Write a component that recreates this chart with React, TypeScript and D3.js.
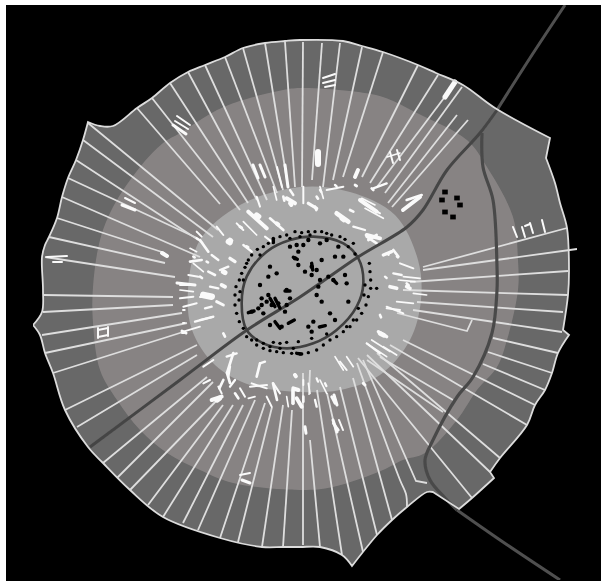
import * as d3 from 'd3';

type Pt = [number, number];
type Seg = number[];

const WIDTH = 601;
const HEIGHT = 581;

// map units are the picture's own grid
const x = d3.scaleLinear().domain([0, 601]).range([0, WIDTH]);
const y = d3.scaleLinear().domain([0, 581]).range([0, HEIGHT]);
// the centre survey is read on a finer grid
const cx = d3.scaleLinear().domain([0, 750]).range([180, 430]);
const cy = d3.scaleLinear().domain([0, 690]).range([180, 410]);

// sharp corners of the boundary are listed twice so the curve does not round them
const boundary: Pt[] = [
  [285, 41], [300, 40], [343, 41], [362, 46], [383, 52], [418, 65], [436, 73], [463, 85], [495, 108], [550, 138], [550, 138],
  [546, 158], [546, 158], [555, 183], [560, 203], [567, 228], [569, 271], [568, 295], [563, 330], [563, 330], [569, 335], [569, 335], [558, 353],
  [552, 373], [545, 390], [535, 405], [527, 425], [500, 458], [490, 472], [490, 472], [494, 478], [494, 478], [472, 498], [459, 509], [459, 509],
  [433, 492], [433, 492], [427, 492], [407, 507], [392, 520], [377, 535], [352, 566], [352, 566], [342, 555], [320, 547], [300, 547],
  [283, 547], [262, 547], [220, 538], [163, 517], [130, 490], [103, 463], [88, 447], [65, 410], [53, 373],
  [45, 353], [40, 335], [33, 325], [33, 325], [42, 312], [43, 290], [42, 257], [45, 245], [49, 237], [57, 218], [62, 197],
  [68, 178], [76, 160], [83, 140], [88, 122], [88, 122], [100, 126], [113, 126], [137, 108], [152, 98], [170, 83], [188, 72],
  [205, 65], [225, 57], [243, 48], [265, 43],
];

const middleZone: Pt[] = [
  [300, 88], [350, 91], [383, 97], [417, 113], [467, 140], [487, 167], [513, 217], [518, 260], [518, 290], [507, 340],
  [497, 367], [477, 390], [457, 420], [425, 453], [403, 460], [383, 470], [333, 487], [300, 490], [233, 483],
  [200, 470], [167, 453], [140, 430], [117, 400], [100, 370], [93, 323], [93, 287], [100, 240], [113, 207],
  [140, 167], [163, 143], [180, 133], [217, 110], [243, 100], [283, 90],
];

const innerZone: Pt[] = [
  [300, 187], [350, 192], [395, 215], [418, 260], [421, 300], [410, 340], [380, 375], [340, 390], [300, 392],
  [250, 385], [215, 365], [192, 330], [188, 290], [200, 240], [240, 205],
];

// plot lines: outer end to inner end, bent ones carry a middle point
const plotLines: Seg[] = [
  [285, 42, 295, 187], [265, 43, 288, 187], [243, 48, 283, 190], [225, 57, 277, 193], [205, 65, 267, 200],
  [188, 72, 257, 200], [170, 83, 248, 203], [152, 98, 240, 210], [137, 108, 220, 204], [88, 123, 218, 230],
  [83, 140, 213, 237], [76, 160, 203, 243], [68, 178, 197, 238], [62, 197, 200, 257], [57, 218, 165, 253],
  [49, 237, 165, 263], [45, 257, 175, 277], [43, 295, 173, 297], [43, 312, 173, 305], [42, 335, 182, 313],
  [45, 353, 187, 323], [53, 373, 183, 332], [65, 410, 197, 345], [77, 427, 197, 355], [103, 463, 207, 377],
  [117, 478, 213, 382], [130, 490, 220, 397], [148, 505, 223, 405], [163, 517, 233, 405], [183, 523, 243, 405],
  [198, 530, 255, 400], [220, 538, 265, 403], [238, 542, 272, 407], [262, 547, 283, 405], [283, 547, 292, 410],
  [303, 545, 303, 373], [320, 547, 310, 440], [310, 370, 309, 395], [342, 555, 317, 390], [363, 552, 327, 393],
  [377, 535, 340, 387], [392, 520, 353, 378], [427, 483, 416, 481, 363, 360], [472, 498, 358, 358],
  [490, 472, 367, 355], [443, 412, 367, 360], [500, 458, 377, 353], [453, 400, 380, 357], [527, 425, 390, 345],
  [535, 405, 403, 340], [545, 390, 483, 364], [552, 373, 488, 352], [558, 353, 493, 338],
  [472, 320, 467, 331, 397, 313], [562, 332, 413, 310], [563, 312, 417, 302], [568, 295, 403, 290],
  [568, 271, 410, 282], [577, 249, 423, 270], [567, 228, 423, 267], [468, 120, 392, 207], [457, 115, 388, 203],
  [462, 87, 385, 193], [456, 82, 377, 187], [438, 75, 370, 183], [418, 65, 362, 177], [383, 52, 343, 177],
  [362, 47, 333, 180], [340, 43, 323, 187], [322, 43, 312, 180], [303, 42, 302, 187],
];
const curvedPlotLine: Pt[] = [[407, 507], [406, 494], [400, 480], [357, 363]];

// small white houses out in the fields
const farmHouses: Seg[] = [
  [177, 116, 190, 125, 2], [175, 121, 188, 129, 2], [173, 125, 186, 134, 3], [125, 198, 135, 203, 2],
  [122, 205, 135, 210, 3], [253, 165, 258, 178, 3], [260, 165, 265, 177, 3], [277, 167, 282, 187, 2],
  [285, 165, 288, 187, 3], [47, 257, 67, 256, 2], [53, 262, 62, 262, 2], [177, 283, 195, 285, 3],
  [323, 78, 335, 74, 2], [323, 83, 335, 80, 2], [325, 87, 335, 85, 2], [445, 97, 455, 82, 5],
  [387, 157, 400, 153, 1.5], [390, 152, 393, 163, 2], [397, 150, 400, 160, 2], [318, 152, 318, 164, 6],
  [358, 170, 355, 177, 4], [513, 227, 517, 237, 2], [522, 227, 525, 237, 2], [525, 226, 530, 224, 2],
  [530, 223, 533, 233, 2], [542, 220, 545, 232, 2], [98, 330, 108, 328, 2], [98, 337, 108, 335, 2],
  [98, 328, 98, 338, 2], [108, 327, 108, 336, 2], [240, 475, 250, 473, 2], [242, 480, 250, 483, 3],
  [403, 210, 420, 197, 4], [334, 395, 337, 405, 3], [333, 420, 337, 432, 3], [339, 420, 343, 430, 2],
  [162, 253, 167, 256, 4], [182, 331, 186, 333, 3],
];

// the white house belt round the village, on the fine grid
const houses: Seg[] = [
  [205, 95, 260, 145, 12], [145, 185, 150, 188, 16], [130, 275, 135, 278, 15], [70, 345, 95, 350, 20],
  [190, 125, 230, 165, 5], [270, 115, 310, 150, 8], [320, 55, 345, 70, 12], [385, 70, 410, 85, 10],
  [470, 100, 505, 125, 14], [540, 60, 590, 95, 12], [520, 140, 555, 150, 7], [560, 165, 600, 175, 12],
  [680, 60, 725, 45, 8], [640, 210, 655, 230, 8], [610, 225, 635, 215, 10], [60, 180, 85, 215, 8],
  [30, 245, 65, 240, 8], [150, 235, 165, 245, 10], [190, 195, 215, 215, 7], [85, 275, 105, 285, 8],
  [125, 315, 135, 320, 12], [0, 315, 45, 315, 6], [0, 330, 40, 335, 5], [0, 355, 40, 350, 6], [10, 380, 50, 370, 6],
  [110, 365, 130, 375, 9], [120, 270, 145, 260, 7], [45, 425, 100, 410, 7], [10, 455, 60, 440, 5], [130, 460, 135, 470, 8],
  [630, 320, 650, 325, 11], [680, 320, 690, 325, 11], [620, 380, 670, 400, 6], [650, 365, 700, 370, 5],
  [670, 290, 720, 295, 5], [660, 250, 700, 265, 6], [640, 280, 665, 285, 7], [595, 455, 620, 470, 10],
  [600, 405, 603, 412, 8], [560, 490, 600, 520, 6], [610, 500, 650, 525, 5], [140, 530, 170, 520, 7],
  [150, 560, 145, 590, 7], [165, 600, 150, 620, 7], [240, 550, 255, 545, 7], [215, 610, 260, 625, 6],
  [280, 610, 300, 640, 6], [340, 625, 355, 630, 12], [385, 610, 390, 640, 5], [345, 585, 348, 590, 10],
  [95, 660, 125, 650, 12], [115, 620, 125, 640, 6], [260, 650, 275, 680, 6], [320, 650, 325, 680, 5],
  [350, 655, 365, 680, 12], [420, 600, 440, 640, 5], [465, 530, 490, 570, 5], [500, 530, 520, 560, 5],
  [405, 660, 410, 680, 7], [550, 610, 555, 615, 9], [70, 560, 100, 540, 6], [40, 250, 70, 275, 5],
  [230, 50, 240, 80, 6], [280, 20, 290, 60, 5], [330, 30, 340, 45, 7], [440, 30, 490, 20, 6],
  [560, 170, 590, 190, 8], [580, 25, 620, 10, 7], [510, 90, 520, 95, 8], [420, 20, 430, 55, 5], [370, 20, 370, 70, 6],
  [50, 155, 65, 170, 6], [110, 140, 130, 165, 6], [700, 340, 740, 345, 5],
  [160, 519, 141, 579, 8], [141, 579, 150, 609, 8], [111, 660, 118, 655, 16], [240, 550, 230, 590, 8],
  [210, 620, 261, 615, 6], [279, 610, 291, 660, 8], [345, 585, 347, 588, 12], [339, 630, 339, 670, 11],
  [60, 351, 99, 351, 6], [60, 420, 99, 411, 6], [9, 390, 14, 390, 6], [9, 429, 14, 429, 6], [6, 459, 12, 459, 6],
  [230, 105, 236, 110, 16], [150, 180, 153, 182, 14], [130, 275, 133, 277, 12], [80, 245, 84, 247, 8],
  [290, 130, 295, 134, 12], [330, 70, 334, 75, 12], [50, 175, 55, 178, 7], [40, 230, 44, 232, 8], [60, 290, 66, 294, 8],
  [180, 140, 185, 143, 9], [200, 200, 204, 202, 9], [310, 50, 313, 62, 8],
  [525, 15, 530, 18, 8], [575, 25, 580, 30, 8], [405, 80, 409, 90, 8], [410, 50, 414, 56, 8], [485, 115, 492, 120, 14],
  [550, 70, 600, 100, 6], [565, 180, 590, 165, 8], [620, 220, 626, 224, 7], [650, 230, 654, 233, 6], [680, 310, 686, 316, 8],
  [615, 290, 620, 294, 7], [465, 15, 470, 19, 7], [420, 30, 424, 36, 7], [555, 85, 610, 115, 5], [545, 55, 585, 75, 5],
  [600, 460, 612, 466, 14], [560, 490, 620, 530, 5], [575, 480, 630, 515, 5], [480, 545, 500, 570, 6], [370, 600, 370, 615, 6],
  [370, 650, 370, 665, 8], [410, 595, 414, 605, 7], [435, 610, 439, 618, 7], [455, 650, 465, 670, 8], [375, 740, 378, 760, 9],
  [460, 730, 475, 750, 8], [620, 385, 660, 390, 6], [655, 300, 705, 305, 5],
  [165, 640, 175, 655, 8], [180, 625, 195, 650, 6], [205, 655, 225, 650, 5], [70, 610, 90, 600, 6], [130, 600, 118, 625, 8],
  [30, 205, 50, 215, 5], [95, 225, 115, 240, 7], [170, 130, 190, 150, 6], [255, 170, 275, 185, 6], [25, 285, 55, 290, 6],
  [90, 320, 115, 325, 7], [75, 385, 95, 380, 7],
];

// black houses inside and along the ring road, fine grid
const ringHouses: Pt[] = [
  [265, 190], [300, 170], [320, 165], [345, 155], [365, 158], [385, 155], [405, 155], [425, 155], [440, 160], [480, 170],
  [495, 178], [520, 190], [250, 200], [232, 208], [215, 225], [205, 240], [195, 262], [185, 280], [178, 300], [168, 320],
  [165, 345], [165, 375], [170, 400], [178, 425], [190, 445], [215, 480], [230, 495], [250, 505], [270, 512], [290, 515],
  [310, 518], [335, 520], [360, 522], [385, 518], [410, 510], [430, 495], [450, 480], [470, 470], [490, 455], [510, 440],
  [530, 420], [545, 400], [558, 375], [565, 350], [572, 325], [572, 300], [570, 275], [568, 250], [590, 325], [230, 480],
  [250, 490], [280, 487], [300, 490], [320, 487], [355, 485], [395, 475], [440, 462], [190, 300], [180, 335], [177, 360],
  [200, 250], [240, 225], [330, 175], [360, 170], [390, 165], [455, 165], [505, 200], [525, 222], [555, 315], [552, 345],
  [535, 385], [520, 420], [500, 440], [200, 470], [340, 505], [300, 505], [270, 500],
];
const villageHouses: Pt[] = [
  [240, 315], [265, 290], [290, 280], [270, 260], [245, 355], [260, 365], [275, 375], [295, 370], [215, 395], [235, 385],
  [250, 400], [330, 355], [320, 330], [345, 235], [355, 215], [370, 195], [355, 255], [375, 275], [395, 260], [425, 240],
  [410, 270], [395, 285], [465, 230], [490, 230], [475, 200], [460, 300], [495, 285], [500, 310], [415, 320], [410, 345],
  [425, 365], [385, 440], [395, 455], [450, 400], [465, 420], [270, 435], [305, 440], [320, 375], [440, 180], [420, 190],
  [385, 180], [350, 195], [330, 200], [505, 365], [400, 425], [315, 395], [245, 375], [265, 345], [420, 300], [445, 290],
];
const largeHouses: Seg[] = [
  [280, 175, 280, 188], [285, 425, 300, 445], [325, 430, 343, 420], [418, 441, 436, 437], [285, 355, 300, 385],
  [270, 355, 285, 380], [395, 250, 398, 270], [205, 398, 222, 393], [340, 232, 352, 238], [315, 333, 330, 333],
  [460, 300, 470, 310], [365, 522, 350, 520],
];
const outlyingHouses: Pt[] = [[445, 192], [442, 200], [457, 198], [460, 205], [445, 212], [453, 217]];

const mainRoadOuter: Pt[] = [[565, 5], [530, 58], [497, 110]];
const mainRoad: Pt[] = [[497, 110], [480, 133], [447, 170], [423, 210], [407, 227], [358, 257], [300, 297], [247, 330], [180, 380], [90, 447]];
const sideRoad: Pt[] = [[482, 133], [483, 167], [493, 200], [497, 267], [497, 290], [492, 333], [473, 377], [457, 397], [433, 440], [425, 460], [430, 480], [445, 498], [457, 510]];
const sideRoadOuter: Pt[] = [[457, 510], [500, 540], [560, 580]];
const ringRoad: Pt[] = [
  [200, 450], [185, 370], [200, 290], [260, 215], [330, 180], [400, 170], [490, 190], [535, 235], [550, 310], [530, 380],
  [470, 450], [400, 490], [320, 505], [250, 490],
];

const toXY = (p: Pt): Pt => [x(p[0]), y(p[1])];
const smooth = d3.line<Pt>().x((d) => x(d[0])).y((d) => y(d[1])).curve(d3.curveCatmullRom);
const smoothPath = (pts: Pt[]) => smooth(pts) ?? '';
const outline = d3.line<Pt>().x((d) => x(d[0])).y((d) => y(d[1])).curve(d3.curveCatmullRomClosed.alpha(0.5));
const blob = d3.line<Pt>().x((d) => x(d[0])).y((d) => y(d[1])).curve(d3.curveCatmullRomClosed);
const ringLine = d3.line<Pt>().x((d) => cx(d[0])).y((d) => cy(d[1])).curve(d3.curveCatmullRomClosed);

const segPoints = (s: Seg): Pt[] => {
  const pts: Pt[] = [];
  for (let i = 0; i + 1 < s.length; i += 2) pts.push([s[i], s[i + 1]]);
  return pts;
};

export default function App() {
  return (
    <svg
      width={WIDTH}
      height={HEIGHT}
      style={{ position: 'absolute', left: 0, top: 0, display: 'block', background: '#fff' }}
    >
      <defs>
        <filter id="soft" x="0" y="0" width="1" height="1">
          <feGaussianBlur stdDeviation="0.7" />
        </filter>
      </defs>
      <rect x={x(6)} y={y(5)} width={x(601) - x(6)} height={y(581) - y(5)} fill="#000" />
      <g filter="url(#soft)">
        <path d={outline(boundary) ?? ''} fill="#676767" />
        <path d={blob(middleZone) ?? ''} fill="#878383" />
        <path d={blob(innerZone) ?? ''} fill="#a9a9a9" />

        <g fill="none" stroke="#dedede" strokeWidth={1.8}>
          {plotLines.map((s, i) => (
            <path key={i} d={d3.line()(segPoints(s).map(toXY)) ?? ''} />
          ))}
          <path d={smoothPath(curvedPlotLine)} />
        </g>

        <g stroke="#fafafa" strokeLinecap="round">
          {farmHouses.map((s, i) => (
            <line key={i} x1={x(s[0])} y1={y(s[1])} x2={x(s[2])} y2={y(s[3])} strokeWidth={s[4]} />
          ))}
          {houses.map((s, i) => (
            <line key={i} x1={cx(s[0])} y1={cy(s[1])} x2={cx(s[2])} y2={cy(s[3])} strokeWidth={s[4] / 3} />
          ))}
        </g>

        <path d={smoothPath(mainRoadOuter)} fill="none" stroke="#505050" strokeWidth={3} />
        <path d={smoothPath(sideRoadOuter)} fill="none" stroke="#505050" strokeWidth={3} />
        <path d={smoothPath(mainRoad)} fill="none" stroke="#454545" strokeWidth={3} />
        <path d={smoothPath(sideRoad)} fill="none" stroke="#4a4a4a" strokeWidth={3.2} />
        <path d={ringLine(ringRoad) ?? ''} fill="none" stroke="#3f3f3f" strokeWidth={2.6} />

        <path d={outline(boundary) ?? ''} fill="none" stroke="#dcdcdc" strokeWidth={1.8} />

        <g fill="#000">
          {ringHouses.map((d, i) => (
            <circle key={i} cx={cx(d[0])} cy={cy(d[1])} r={1.7} />
          ))}
          {villageHouses.map((d, i) => (
            <circle key={i} cx={cx(d[0])} cy={cy(d[1])} r={2.2} />
          ))}
          {outlyingHouses.map((d, i) => (
            <rect key={i} x={x(d[0]) - 2.8} y={y(d[1]) - 2.4} width={5.6} height={4.8} />
          ))}
        </g>
        <g stroke="#000" strokeWidth={3.4} strokeLinecap="round">
          {largeHouses.map((s, i) => (
            <line key={i} x1={cx(s[0])} y1={cy(s[1])} x2={cx(s[2])} y2={cy(s[3])} />
          ))}
        </g>
      </g>
    </svg>
  );
}
